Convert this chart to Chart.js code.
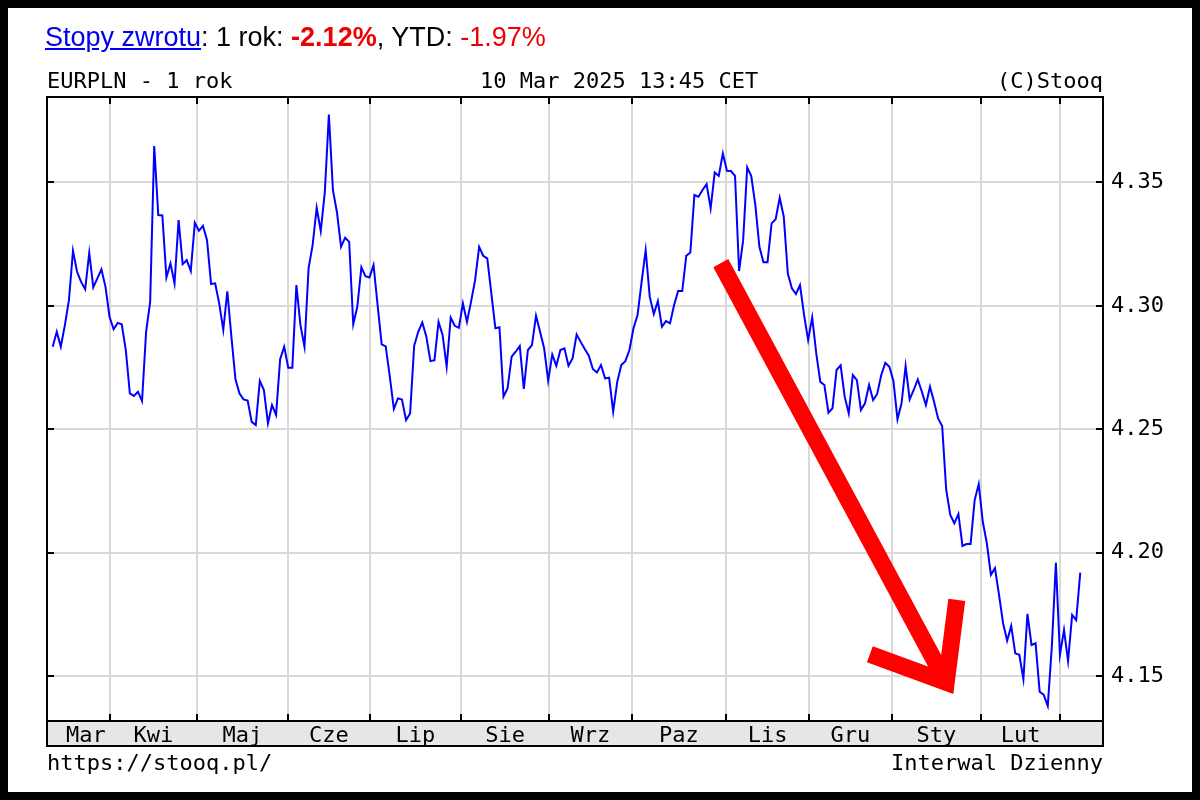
<!DOCTYPE html>
<html>
<head>
<meta charset="utf-8">
<script src="https://cdn.jsdelivr.net/npm/chart.js@4.4.1/dist/chart.umd.min.js"></script>
<style>
html, body { margin: 0; padding: 0; background: #000; }
body { width: 1200px; height: 800px; position: relative; overflow: hidden; }
#page { position: absolute; left: 8px; top: 8px; width: 1184px; height: 784px; background: #fff; }
#trendChart { position: absolute; left: 0; top: 0; }
.t { position: absolute; white-space: nowrap; line-height: 1; }
.mono { font-family: "DejaVu Sans Mono", monospace; font-size: 22px; color: #000; }
#head { font-family: "Liberation Sans", Arial, sans-serif; font-size: 27px; left: 45px; top: 24px; color: #000; }
#head a { color: #0000ee; text-decoration: underline; }
.red { color: #ee0000; }
</style>
</head>
<body>
<div id="page"></div>
<canvas id="trendChart" width="1200" height="800"></canvas>
<div class="t" id="head"><a>Stopy zwrotu</a>: 1 rok: <b class="red">-2.12%</b>, YTD: <span class="red">-1.97%</span></div>
<div class="t mono" style="left:47px; top:70px;">EURPLN - 1 rok</div>
<div class="t mono" style="left:480px; top:70px;">10 Mar 2025 13:45 CET</div>
<div class="t mono" style="right:97px; top:70px;">(C)Stooq</div>
<div class="t mono" style="left:47px; top:752px;">https://stooq.pl/</div>
<div class="t mono" style="right:97px; top:752px;">Interwal Dzienny</div>
<script>
// x axis = trading day index, first session = 0
const monthNames = ['Mar', 'Kwi', 'Maj', 'Cze', 'Lip', 'Sie', 'Wrz', 'Paz', 'Lis', 'Gru', 'Sty', 'Lut'];
const monthBreaks = [14.1, 35.5, 57.9, 78.1, 100.5, 122.2, 142.6, 165.8, 186.2, 206.6, 228.5, 248.0];
const monthLabelAt = [8.2, 24.8, 46.7, 68.0, 89.3, 111.4, 132.4, 154.2, 176.0, 196.4, 217.6, 238.3];
const priceTicks = [4.15, 4.20, 4.25, 4.30, 4.35];

// EURPLN daily close
const eurpln = [
    4.2834, 4.2895, 4.2834, 4.2922, 4.3023, 4.3223, 4.3138, 4.3097, 4.3067, 4.3215,
    4.3075, 4.3111, 4.3148, 4.3077, 4.2956, 4.2905, 4.2931, 4.2925, 4.2821, 4.2645,
    4.2635, 4.2652, 4.2614, 4.2895, 4.3016, 4.3647, 4.3368, 4.3366, 4.3115, 4.3172,
    4.3091, 4.3347, 4.3169, 4.3185, 4.3141, 4.3336, 4.3304, 4.3324, 4.3266, 4.3088,
    4.3091, 4.3010, 4.2902, 4.3059, 4.2875, 4.2702, 4.2645, 4.2621, 4.2616, 4.2530,
    4.2517, 4.2696, 4.2659,
    4.2524, 4.2598, 4.2558, 4.2784, 4.2834, 4.2749, 4.2749, 4.3084, 4.2922, 4.2834,
    4.3152, 4.3246, 4.3397, 4.3303, 4.3460, 4.3775, 4.3469, 4.3378, 4.3239, 4.3276,
    4.3259, 4.2925, 4.2996, 4.3156, 4.3120, 4.3115, 4.3165, 4.3003, 4.2844, 4.2836,
    4.2713, 4.2582, 4.2625, 4.2620, 4.2537, 4.2564, 4.2838, 4.2895, 4.2933, 4.2875,
    4.2776, 4.2780, 4.2935, 4.2882, 4.2753, 4.2952, 4.2919, 4.2911, 4.3010, 4.2935,
    4.3016, 4.3104, 4.3239,
    4.3203, 4.3192, 4.3050, 4.2909, 4.2913, 4.2632, 4.2666, 4.2794, 4.2814, 4.2837,
    4.2663, 4.2821, 4.2841, 4.2960, 4.2895, 4.2828, 4.2696, 4.2803, 4.2757, 4.2821,
    4.2828, 4.2757, 4.2787, 4.2884, 4.2854, 4.2825, 4.2798, 4.2744, 4.2730, 4.2760,
    4.2706, 4.2709, 4.2571, 4.2692, 4.2760, 4.2776, 4.2821, 4.2909, 4.2963, 4.3097,
    4.3226, 4.3037, 4.2967, 4.3019, 4.2915, 4.2938, 4.2929, 4.3003, 4.3060, 4.3060,
    4.3203, 4.3216,
    4.3449, 4.3442, 4.3469, 4.3493, 4.3395, 4.3540, 4.3526, 4.3617, 4.3547, 4.3546,
    4.3526, 4.3141, 4.3266, 4.3561, 4.3526, 4.3408, 4.3239, 4.3177, 4.3177, 4.3334,
    4.3351, 4.3438, 4.3361, 4.3131, 4.3071, 4.3048, 4.3084, 4.2963, 4.2861, 4.2953,
    4.2807, 4.2692, 4.2679, 4.2567, 4.2585, 4.2740, 4.2759, 4.2632, 4.2564, 4.2720,
    4.2699, 4.2578, 4.2605, 4.2679, 4.2618, 4.2643, 4.2720, 4.2769, 4.2753, 4.2696,
    4.2540,
    4.2605, 4.2756, 4.2621, 4.2659, 4.2702, 4.2652, 4.2598, 4.2672, 4.2611, 4.2544,
    4.2513, 4.2254, 4.2153, 4.2119, 4.2157, 4.2027, 4.2035, 4.2035, 4.2213, 4.2278,
    4.2125, 4.2038, 4.1910, 4.1937, 4.1829, 4.1714, 4.1643, 4.1703, 4.1592, 4.1586,
    4.1487, 4.1752, 4.1626, 4.1633, 4.1437, 4.1424, 4.1379, 4.1619, 4.1959, 4.1586,
    4.1687, 4.1561, 4.1748, 4.1727, 4.1919
];

// red arrow drawn on the chart, in (day, price)
const arrowShaft = [[164.5, 4.3173], [220.0, 4.1475]];
const arrowHead = [[201.2, 4.1588], [220.0, 4.1475], [222.6, 4.1809]];

const X_MIN = -1.4, X_MAX = 258.6;
const Y_MIN = 4.1318, Y_MAX = 4.3846;
const monoFont = { family: 'DejaVu Sans Mono', size: 22 };

const stooqFrame = {
    id: 'stooqFrame',
    beforeDraw(chart) {
        const { ctx, chartArea: a } = chart;
        ctx.save();
        ctx.fillStyle = '#e6e6e6';
        ctx.fillRect(a.left, a.bottom, a.right - a.left, 25);
        ctx.restore();
    },
    afterDraw(chart) {
        const { ctx, chartArea: a, scales } = chart;
        ctx.save();
        ctx.strokeStyle = '#000';
        ctx.lineWidth = 2;
        ctx.strokeRect(a.left, a.top, a.right - a.left, a.bottom + 25 - a.top);
        ctx.beginPath();
        ctx.moveTo(a.left, a.bottom);
        ctx.lineTo(a.right, a.bottom);
        monthBreaks.forEach(b => {
            const x = Math.round(scales.x.getPixelForValue(b));
            ctx.moveTo(x, a.top); ctx.lineTo(x, a.top + 7);
            ctx.moveTo(x, a.bottom); ctx.lineTo(x, a.bottom - 7);
        });
        priceTicks.forEach(t => {
            const y = Math.round(scales.y.getPixelForValue(t));
            ctx.moveTo(a.left, y); ctx.lineTo(a.left + 7, y);
            ctx.moveTo(a.right, y); ctx.lineTo(a.right - 7, y);
        });
        ctx.stroke();

        // arrow
        const px = p => [scales.x.getPixelForValue(p[0]), scales.y.getPixelForValue(p[1])];
        ctx.strokeStyle = '#ff0000';
        ctx.lineWidth = 17;
        ctx.lineCap = 'butt';
        ctx.lineJoin = 'miter';
        ctx.beginPath();
        const s0 = px(arrowShaft[0]), s1 = px(arrowShaft[1]);
        ctx.moveTo(s0[0], s0[1]); ctx.lineTo(s1[0], s1[1]);
        ctx.stroke();
        ctx.beginPath();
        arrowHead.map(px).forEach((p, i) => i ? ctx.lineTo(p[0], p[1]) : ctx.moveTo(p[0], p[1]));
        ctx.stroke();
        ctx.restore();
    }
};

const ctx = document.getElementById('trendChart').getContext('2d');

const trendChart = new Chart(ctx, {
    type: 'line',
    data: {
        datasets: [
            {
                label: 'EURPLN',
                data: eurpln.map((v, i) => ({ x: i, y: v })),
                borderColor: '#0000ff',
                borderWidth: 2,
                pointRadius: 0,
                tension: 0
            }
        ]
    },
    options: {
        responsive: false,
        animation: false,
        devicePixelRatio: 1,
        layout: { padding: { left: 47, top: 97, right: 0, bottom: 0 } },
        plugins: {
            legend: { display: false },
            tooltip: { enabled: false }
        },
        scales: {
            x: {
                type: 'linear',
                min: X_MIN,
                max: X_MAX,
                afterBuildTicks: s => { s.ticks = monthBreaks.map(v => ({ value: v })); },
                ticks: { display: false },
                grid: { color: '#d9d9d9', lineWidth: 2, drawTicks: false },
                border: { display: false },
                afterFit: s => { s.height = 0; }
            },
            x2: {
                type: 'linear',
                position: 'bottom',
                min: X_MIN,
                max: X_MAX,
                afterBuildTicks: s => { s.ticks = monthLabelAt.map(v => ({ value: v })); },
                ticks: {
                    autoSkip: false,
                    maxRotation: 0,
                    padding: 2,
                    color: '#000',
                    font: monoFont,
                    callback: (v, i) => monthNames[i]
                },
                grid: { display: false, drawTicks: false },
                border: { display: false },
                afterFit: s => { s.height = 79; }
            },
            y: {
                position: 'right',
                min: Y_MIN,
                max: Y_MAX,
                afterBuildTicks: s => { s.ticks = priceTicks.map(v => ({ value: v })); },
                ticks: {
                    padding: 8,
                    color: '#000',
                    font: monoFont,
                    callback: v => v.toFixed(2)
                },
                grid: { color: '#d9d9d9', lineWidth: 2, drawTicks: false },
                border: { display: false },
                afterFit: s => { s.width = 97; }
            }
        }
    },
    plugins: [stooqFrame]
});
</script>
</body>
</html>
